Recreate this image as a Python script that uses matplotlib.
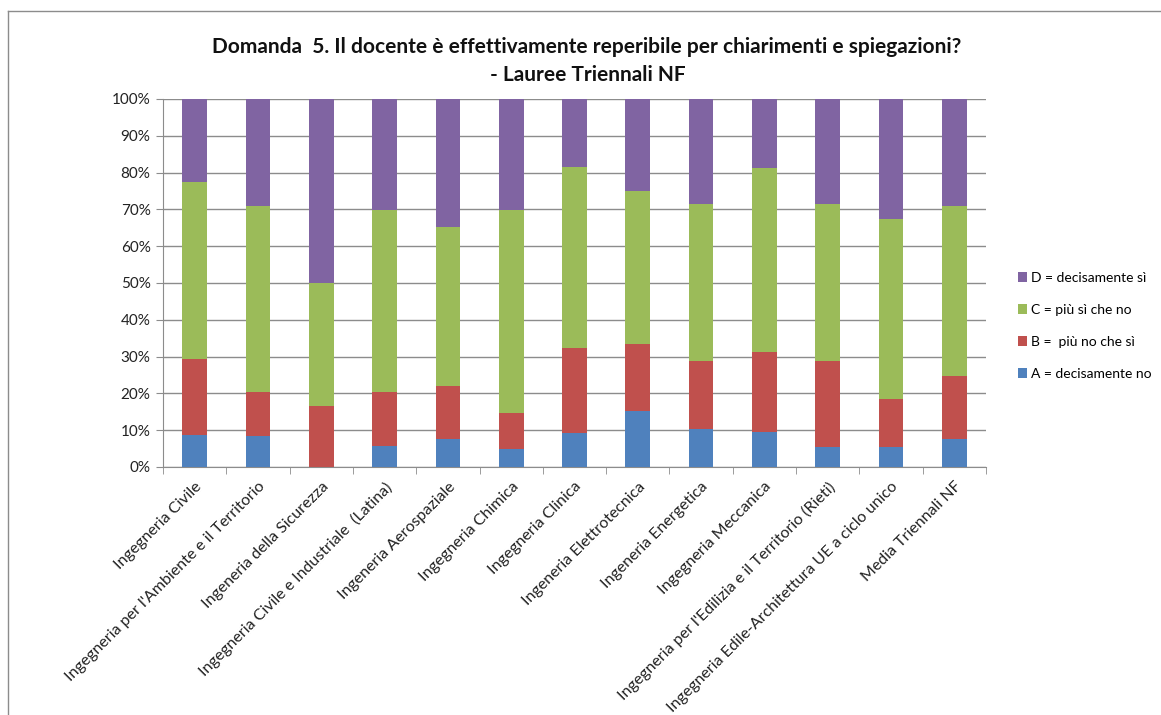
import matplotlib
matplotlib.use("Agg")
import matplotlib.pyplot as plt
from matplotlib.lines import Line2D
import numpy as np

plt.rcParams['font.family'] = ['Lato', 'DejaVu Sans']

categories = [
    "Ingegneria Civile",
    "Ingegneria per l'Ambiente e il Territorio",
    "Ingeneria della Sicurezza",
    "Ingegneria Civile e Industriale  (Latina)",
    "Ingeneria Aerospaziale",
    "Ingegneria Chimica",
    "Ingegneria Clinica",
    "Ingeneria Elettrotecnica",
    "Ingeneria Energetica",
    "Ingegneria Meccanica",
    "Ingegneria per l'Edilizia e il Territorio (Rieti)",
    "Ingegneria Edile-Architettura UE a ciclo unico",
    "Media Triennali NF",
]

# percentages per category
A_no = [8.7, 8.4, 0.0, 5.7, 7.7, 4.8, 9.2, 15.1, 10.3, 9.6, 5.5, 5.5, 7.7]
B_piu_no = [20.7, 12.1, 16.7, 14.6, 14.2, 10.0, 23.1, 18.2, 18.4, 21.7, 23.2, 13.1, 17.1]
C_piu_si = [48.0, 50.5, 33.3, 49.5, 43.2, 55.0, 49.2, 41.7, 42.9, 50.0, 42.9, 48.8, 46.1]
D_si = [22.6, 29.0, 50.0, 30.2, 34.9, 30.2, 18.5, 25.0, 28.4, 18.7, 28.4, 32.6, 29.1]

series_labels = ["A = decisamente no", "B =  più no che sì", "C = più sì che no", "D = decisamente sì"]
colors = ["#4F81BD", "#C0504D", "#9BBB59", "#8064A2"]
title_lines = ["Domanda  5. Il docente è effettivamente reperibile per chiarimenti e spiegazioni?",
               "- Lauree Triennali NF"]

fig = plt.figure(figsize=(11.61, 7.15), dpi=100)
ax = fig.add_axes([163/1161, 1 - 467/715, (986-163)/1161, (467-99)/715])

x = np.arange(len(categories))
series = [A_no, B_piu_no, C_piu_si, D_si]
bottom = np.zeros(len(categories))
handles = []
for vals, lab, col in zip(series, series_labels, colors):
    v = np.array(vals, dtype=float)
    b = ax.bar(x, v, 0.39, bottom=bottom, color=col, label=lab, zorder=3, linewidth=0)
    handles.append(b)
    bottom += v

ax.set_xlim(-0.5, len(categories) - 0.5)
ax.set_ylim(0, 100)
ax.set_yticks(np.arange(0, 101, 10))
ax.set_yticklabels([f"{t}%" for t in range(0, 101, 10)], fontsize=11, color="#222222")
ax.yaxis.grid(True, color="#8c8c8c", linewidth=1.0, zorder=0)
ax.set_axisbelow(True)
for s in ["top", "right"]:
    ax.spines[s].set_visible(False)
ax.spines["left"].set_color("#8c8c8c")
ax.spines["bottom"].set_color("#8c8c8c")
ax.tick_params(axis="y", length=5, color="#8c8c8c", pad=4)

ax.set_xticks(x)
ax.set_xticklabels(categories, rotation=45, ha="right", rotation_mode="anchor",
                   fontsize=11.5, color="#222222")
ax.tick_params(axis="x", length=0, pad=9)
ax.set_xticks(np.arange(-0.5, len(categories), 1.0), minor=True)
ax.tick_params(axis="x", which="minor", length=5, color="#8c8c8c")

fig.text(587/1161, 1 - 47/715, title_lines[0], ha="center", va="center",
         fontsize=15, fontweight="bold", color="#111111")
fig.text(588/1161, 1 - 75/715, title_lines[1], ha="center", va="center",
         fontsize=15, fontweight="bold", color="#111111")

# legend (reverse order, D on top)
leg = fig.legend(handles[::-1], series_labels[::-1], loc="upper left",
                 bbox_to_anchor=(1012/1161, 1 - 266/715), frameon=False,
                 fontsize=10, labelspacing=1.45, handlelength=0.7, handleheight=0.7,
                 handletextpad=0.3, borderaxespad=0)

# border lines (top and left)
fig.add_artist(Line2D([8/1161, 8/1161], [0, 1 - 11/715], transform=fig.transFigure,
                      color="#8c8c8c", linewidth=1.0))
fig.add_artist(Line2D([8/1161, 1], [1 - 11/715, 1 - 11/715], transform=fig.transFigure,
                      color="#8c8c8c", linewidth=1.0))

fig.savefig("out.png", dpi=100, facecolor="white")
